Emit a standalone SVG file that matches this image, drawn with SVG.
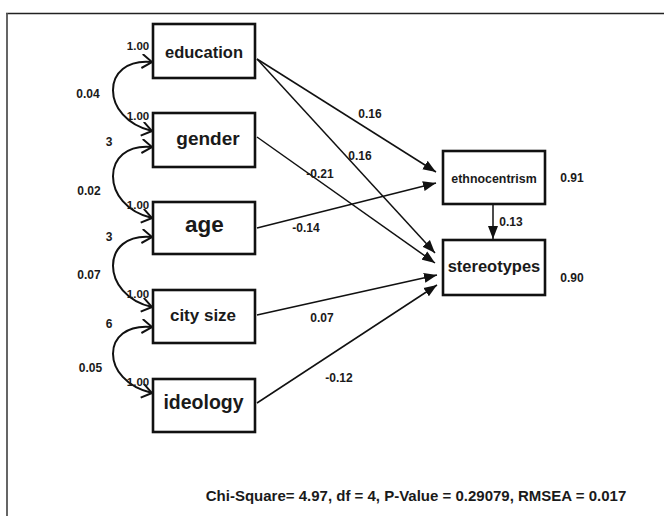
<svg xmlns="http://www.w3.org/2000/svg" width="664" height="516" viewBox="0 0 664 516">
<style>
.box{fill:#fff;stroke:#111;stroke-width:2.6}
.t{font-family:"Liberation Sans",Arial,sans-serif;font-weight:bold;fill:#1a1a1a;text-anchor:middle}
.lbl{font-size:12px}
.sm{font-size:11.5px}
.path{fill:none;stroke:#111;stroke-width:1.5;marker-end:url(#arr)}
.cov{fill:none;stroke:#111;stroke-width:2;marker-start:url(#chev);marker-end:url(#chev)}
</style>
<defs>
<marker id="arr" markerUnits="userSpaceOnUse" markerWidth="14" markerHeight="11" refX="13" refY="5.5" orient="auto">
<path d="M0,0.5 L13,5.5 L0,10.5 z" fill="#111"/>
</marker>
<marker id="chev" markerUnits="userSpaceOnUse" markerWidth="12" markerHeight="16" refX="10.5" refY="7.5" orient="auto-start-reverse">
<path d="M0.5,0.5 L10.5,7.5 L0.5,14.5" fill="none" stroke="#111" stroke-width="2"/>
</marker>
</defs>
<rect width="664" height="516" fill="#fff"/>
<g id="frame">
<line x1="6" y1="13.5" x2="664" y2="13.5" stroke="#222" stroke-width="1.5"/>
<line x1="7" y1="13" x2="7" y2="516" stroke="#555" stroke-width="1.8"/>
</g>
<g id="connectors">
<path class="path" d="M257,59 L436,172"/>
<path class="path" d="M257,228 L436,183"/>
<path class="path" d="M257,59 L435,253"/>
<path class="path" d="M257,137 L435,263"/>
<path class="path" d="M257,315 L437,275"/>
<path class="path" d="M257,403 L437,285"/>
<path class="path" d="M493,205 L493,239"/>
<path class="cov" d="M152,62 C100,57 100,119 152,131"/>
<path class="cov" d="M152,147 C100,142 100,206 152,218"/>
<path class="cov" d="M152,237 C100,232 100,295 152,307"/>
<path class="cov" d="M152,327 C100,322 100,381 152,393"/>
</g>
<g id="edge-labels">
<text class="t lbl" x="370" y="118">0.16</text>
<text class="t lbl" x="360" y="160">0.16</text>
<text class="t lbl" x="320" y="178">-0.21</text>
<text class="t lbl" x="306" y="232">-0.14</text>
<text class="t lbl" x="322" y="322">0.07</text>
<text class="t lbl" x="339" y="382">-0.12</text>
<text class="t lbl" x="511" y="226">0.13</text>
<text class="t lbl" x="572" y="182">0.91</text>
<text class="t lbl" x="572" y="282">0.90</text>
<text class="t sm" x="138" y="49.5">1.00</text>
<text class="t sm" x="138" y="120">1.00</text>
<text class="t sm" x="138" y="209">1.00</text>
<text class="t sm" x="138" y="297.5">1.00</text>
<text class="t sm" x="138" y="386">1.00</text>
<text class="t lbl" x="88" y="97.5">0.04</text>
<text class="t lbl" x="89" y="195">0.02</text>
<text class="t lbl" x="89" y="278.5">0.07</text>
<text class="t lbl" x="90.5" y="372">0.05</text>
<text class="t lbl" x="109" y="146">3</text>
<text class="t lbl" x="109" y="241">3</text>
<text class="t lbl" x="109" y="327.5">6</text>
</g>
<g id="education">
<rect class="box" x="153" y="24" width="102" height="54"/>
<text class="t" x="204" y="57.5" font-size="16.5">education</text>
</g>
<g id="gender">
<rect class="box" x="153" y="113" width="102" height="54"/>
<text class="t" x="208" y="144.5" font-size="19">gender</text>
</g>
<g id="age">
<rect class="box" x="153" y="202" width="102" height="52"/>
<text class="t" x="204.5" y="232" font-size="22.5">age</text>
</g>
<g id="city-size">
<rect class="box" x="153" y="290" width="102" height="53"/>
<text class="t" x="203" y="321" font-size="17">city size</text>
</g>
<g id="ideology">
<rect class="box" x="153" y="379" width="102" height="53"/>
<text class="t" x="203.5" y="408.5" font-size="19.5">ideology</text>
</g>
<g id="ethnocentrism">
<rect class="box" x="443" y="151" width="102" height="53"/>
<text class="t" x="494" y="182.5" font-size="12.4">ethnocentrism</text>
</g>
<g id="stereotypes">
<rect class="box" x="443" y="240" width="102" height="55"/>
<text class="t" x="494" y="272" font-size="16.5">stereotypes</text>
</g>
<g id="fit">
<text class="t" x="416" y="501" font-size="15">Chi-Square= 4.97, df = 4, P-Value = 0.29079, RMSEA = 0.017</text>
</g>
</svg>
